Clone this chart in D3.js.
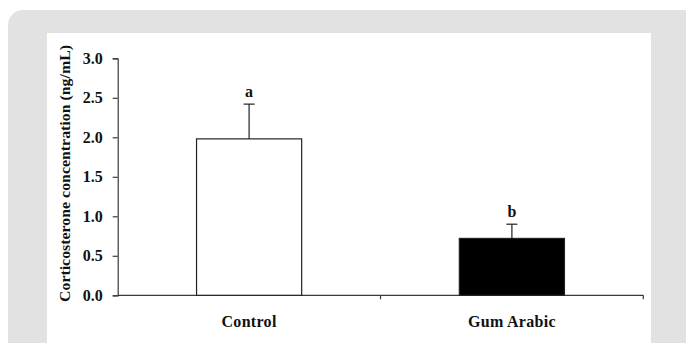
<!DOCTYPE html>
<html>
<head>
<meta charset="utf-8">
<script src="https://cdn.jsdelivr.net/npm/d3@7"></script>
<style>
  html, body { margin: 0; padding: 0; background: #fff; overflow: hidden; }
  svg { display: block; }
  text { font-family: "Liberation Serif", "Times New Roman", serif; font-weight: bold; fill: #111; }
</style>
</head>
<body>
<svg id="chart" width="686" height="343"></svg>
<script>
(function () {

    // data
    var categories = ['Control', 'Gum Arabic'];
    var means = [1.98, 0.72];
    var errors = [0.44, 0.18];
    var letters = ['a', 'b'];
    var yTicks = [0, 0.5, 1.0, 1.5, 2.0, 2.5, 3.0];
    var yTitle = 'Corticosterone concentration (ng/mL)';

    var svg = d3.select('#chart');

    // card frame
    svg.append('rect')
        .attr('x', 8).attr('y', 10)
        .attr('width', 700).attr('height', 360)
        .attr('rx', 15)
        .attr('fill', '#e2e2e2');

    svg.append('rect')
        .attr('x', 47).attr('y', 33)
        .attr('width', 604).attr('height', 320)
        .attr('fill', '#fff');

    var plot = { left: 117.7, right: 643.3, top: 58.3, bottom: 295.3 };

    var x = d3.scaleBand()
        .domain(categories)
        .range([plot.left, plot.right])
        .paddingInner(0.6)
        .paddingOuter(0.3);

    var y = d3.scaleLinear()
        .domain([0, 3])
        .range([plot.bottom, plot.top]);

    var axisColor = '#3a3a3a';

    // y axis
    var yAxis = svg.append('g')
        .attr('transform', 'translate(' + plot.left + ',0)')
        .call(d3.axisLeft(y)
            .tickValues(yTicks)
            .tickSize(5)
            .tickPadding(10)
            .tickFormat(d3.format('.1f')));

    yAxis.select('.domain').attr('stroke', axisColor).attr('stroke-width', 1.2);
    yAxis.selectAll('.tick line').attr('stroke', axisColor).attr('stroke-width', 1.2);
    yAxis.selectAll('.tick text')
        .attr('font-family', '"Liberation Serif", serif')
        .attr('font-weight', 'bold')
        .attr('font-size', 16)
        .attr('fill', '#111');

    // x axis: tick marks at category boundaries
    var step = (plot.right - plot.left) / categories.length;
    var boundaries = d3.range(categories.length + 1).map(function (i) {
        return plot.left + i * step;
    });

    var xAxis = svg.append('g').attr('class', 'x-axis');

    xAxis.append('line')
        .attr('x1', plot.left).attr('x2', plot.right)
        .attr('y1', y(0)).attr('y2', y(0))
        .attr('stroke', axisColor)
        .attr('stroke-width', 1.2);

    xAxis.selectAll('line.tick')
        .data(boundaries.slice(1))
        .enter()
        .append('line')
        .classed('tick', true)
        .attr('x1', function (d) { return d; })
        .attr('x2', function (d) { return d; })
        .attr('y1', y(0))
        .attr('y2', y(0) + 4)
        .attr('stroke', axisColor)
        .attr('stroke-width', 1.2);

    xAxis.selectAll('text')
        .data(categories)
        .enter()
        .append('text')
        .attr('x', function (d) { return x(d) + x.bandwidth() / 2; })
        .attr('y', 327)
        .attr('text-anchor', 'middle')
        .attr('font-size', 16)
        .attr('letter-spacing', 0.3)
        .text(function (d) { return d; });

    // y axis title
    svg.append('text')
        .attr('transform', 'translate(70,' + ((45 + 302) / 2) + ') rotate(-90)')
        .attr('text-anchor', 'middle')
        .attr('font-size', 14)
        .attr('textLength', 257)
        .attr('lengthAdjust', 'spacingAndGlyphs')
        .text(yTitle);

    // error bars (upper only), drawn beneath bars
    var errG = svg.append('g');
    categories.forEach(function (c, i) {
        var cx = x(c) + x.bandwidth() / 2;
        errG.append('line')
            .attr('x1', cx).attr('x2', cx)
            .attr('y1', y(means[i]))
            .attr('y2', y(means[i] + errors[i]))
            .attr('stroke', '#222')
            .attr('stroke-width', 1.2);
        errG.append('line')
            .attr('x1', cx - 5.5).attr('x2', cx + 5.5)
            .attr('y1', y(means[i] + errors[i]))
            .attr('y2', y(means[i] + errors[i]))
            .attr('stroke', '#222')
            .attr('stroke-width', 1.2);
        errG.append('text')
            .attr('x', cx)
            .attr('y', y(means[i] + errors[i]) - 7)
            .attr('text-anchor', 'middle')
            .attr('font-size', 16)
            .text(letters[i]);
    });

    // bars
    svg.append('g')
        .selectAll('rect')
        .data(categories)
        .enter()
        .append('rect')
        .attr('x', function (d) { return x(d); })
        .attr('y', function (d, i) { return y(means[i]); })
        .attr('width', x.bandwidth())
        .attr('height', function (d, i) { return y(0) - y(means[i]); })
        .attr('fill', function (d, i) { return i === 0 ? '#fff' : '#000'; })
        .attr('stroke', '#222')
        .attr('stroke-width', 1.2);

})();
</script>
</body>
</html>
